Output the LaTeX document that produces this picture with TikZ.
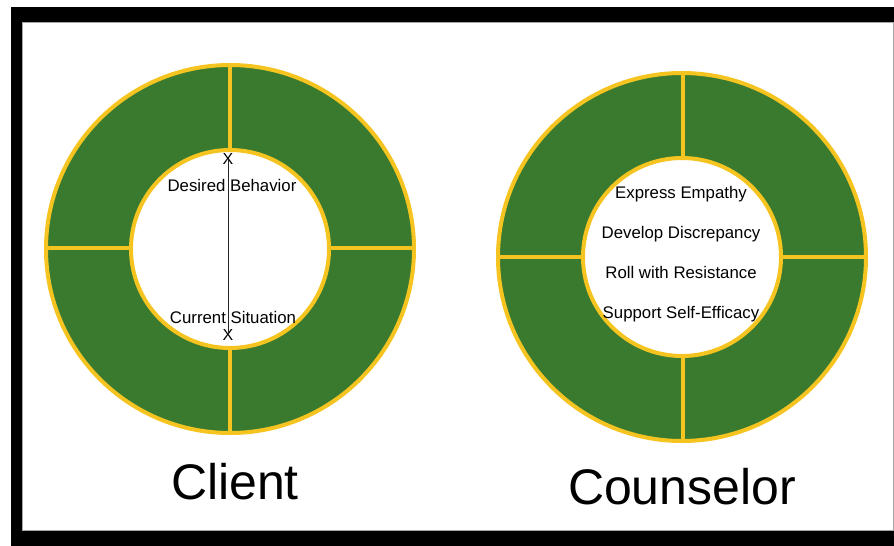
\documentclass[tikz,border=0pt]{standalone}
\usepackage{fontspec}
\setmainfont{Liberation Sans}
\usetikzlibrary{positioning}
\definecolor{ringgreen}{RGB}{58,122,46}
\definecolor{ringgold}{RGB}{246,196,32}

\begin{document}
\begin{tikzpicture}[x=1pt,y=-1pt,every node/.style={inner sep=0pt},on grid,
  ring/.style={fill=ringgreen,draw=ringgold,line width=4pt},
  spoke/.style={draw=ringgold,line width=4pt},
  hole/.style={fill=white,draw=ringgold,line width=4pt},
  lbl/.style={font=\fontsize{16.8}{18}\selectfont,text height=11pt,text depth=3pt},
  xmark/.style={font=\fontsize{16}{16}\selectfont},
  title/.style={font=\fontsize{50}{60}\selectfont,anchor=base}]

  % sizes
  \def \ro {184}
  \def \ri {99}

  \useasboundingbox (0,0) rectangle (894,546);

  % frame
  \fill[black] (11,7) rectangle (894,546);
  \fill[white,draw=gray!70,line width=0.8pt] (22,22) rectangle (893,530);

  % client ring
  \coordinate (client) at (230,249);
  \fill[ring] (client) circle (\ro);
  \draw[spoke] (client) ++(0,-\ro) -- ++(0,2*\ro);
  \draw[spoke] (client) ++(-\ro,-1) -- ++(2*\ro,0);
  \fill[hole] (client) circle (\ri);

  \node[xmark] (want) at (228,159) {X};
  \node[xmark] (now) at (228,335) {X};
  \draw[black!85,line width=1pt] (want.center) -- (now.center);
  \node[lbl] (desired) at (232,187) {Desired Behavior};
  \node[lbl] (current) at (233,319) {Current Situation};

  \node[title] (clientlbl) at (235,499) {Client};

  % counselor ring
  \coordinate (counselor) at (682,257);
  \fill[ring] (counselor) circle (\ro);
  \draw[spoke] (counselor) ++(1,-\ro) -- ++(0,2*\ro);
  \draw[spoke] (counselor) ++(-\ro,0) -- ++(2*\ro,0);
  \fill[hole] (counselor) circle (\ri);

  \node[lbl] (empathy) at (681,194) {Express Empathy};
  \node[lbl,below=40pt of empathy] (discrepancy) {Develop Discrepancy};
  \node[lbl,below=40pt of discrepancy] (resistance) {Roll with Resistance};
  \node[lbl,below=40pt of resistance] (efficacy) {Support Self-Efficacy};

  \node[title] (counselorlbl) at (682,504) {Counselor};
\end{tikzpicture}
\end{document}
